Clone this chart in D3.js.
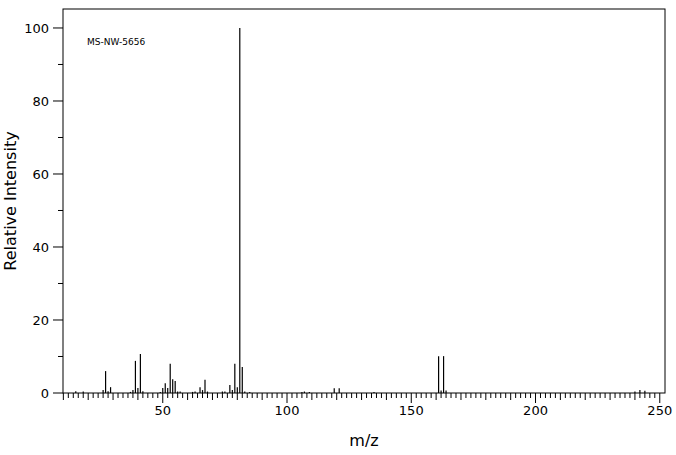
<!DOCTYPE html><html><head><meta charset="utf-8">
<script src="https://cdn.jsdelivr.net/npm/d3@7"></script>
<style>body{margin:0;background:#fff}svg{display:block}text{font-family:"DejaVu Sans",sans-serif}</style>
</head><body><svg id="c" width="676" height="455"></svg>
<script>
const mz =        [15,18,26,27,28,29,37,38,39,40,41,42,49,50,51,52,53,54,55,56,57,62,63,65,66,67,68,74,75,77,78,79,80,81,82,83,85,106,107,109,119,121,135,161,162,163,164,240,242,244];
const intensity = [0.5,0.4,0.8,6,0.5,1.6,0.3,0.8,8.8,1.4,10.7,0.5,0.3,1.4,2.7,1.4,8,3.8,3.3,0.4,0.4,0.3,0.4,1.6,0.8,3.6,0.4,0.4,0.4,2.2,0.8,8,1.6,100,7.1,0.4,0.3,0.3,0.4,0.3,1.3,1.3,0.3,10.1,0.7,10.1,0.7,0.4,0.8,0.6];
const xTicks = [50,100,150,200,250];
const yTicks = [0,20,40,60,80,100];
const label = "MS-NW-5656";

const svg = d3.select("#c");
const L=63,R=665,T=9,B=393;
const x = d3.scaleLinear().domain([9.86,252.1]).range([L,R]);
const y = d3.scaleLinear().domain([0,105.2]).range([B,T]);
svg.append("rect").attr("x",L).attr("y",T).attr("width",R-L).attr("height",B-T).attr("fill","none").attr("stroke","#000");
// x minor ticks
const xt = d3.range(10,252,2);
svg.selectAll(".xt").data(xt).join("line").attr("x1",d=>x(d)).attr("x2",d=>x(d)).attr("y1",B)
  .attr("y2",d=>B+(d%50===0?10:d%10===0?7:5)).attr("stroke","#000");
svg.selectAll(".xl").data(xTicks).join("text").attr("x",d=>x(d)).attr("y",B+22).attr("text-anchor","middle").attr("font-size",13).text(d=>d);
const yt = d3.range(0,101,10);
svg.selectAll(".yt").data(yt).join("line").attr("x1",L).attr("x2",d=>L-(d%20===0?10:5)).attr("y1",d=>y(d)).attr("y2",d=>y(d)).attr("stroke","#000");
svg.selectAll(".yl").data(yTicks).join("text").attr("x",L-14).attr("y",d=>y(d)+5).attr("text-anchor","end").attr("font-size",13).text(d=>d);
svg.selectAll(".pk").data(mz).join("line").attr("x1",d=>x(d)).attr("x2",d=>x(d)).attr("y1",B).attr("y2",(d,i)=>y(intensity[i])).attr("stroke","#000").attr("stroke-width",1.2);
svg.append("text").attr("x",87).attr("y",45).attr("font-size",9).text(label);
svg.append("text").attr("x",364).attr("y",446).attr("text-anchor","middle").attr("font-size",16).text("m/z");
svg.append("text").attr("transform","translate(16,201) rotate(-90)").attr("text-anchor","middle").attr("font-size",16).text("Relative Intensity");
</script></body></html>
